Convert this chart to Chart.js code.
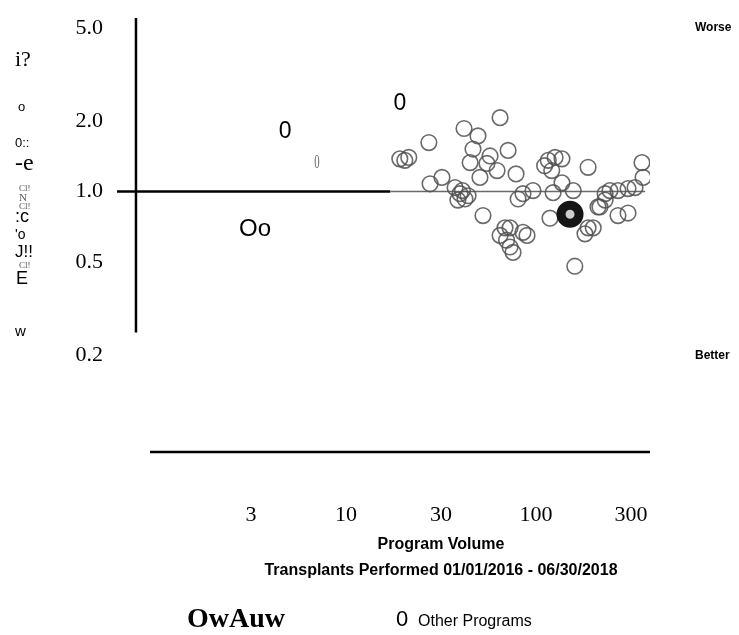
<!DOCTYPE html>
<html>
<head>
<meta charset="utf-8">
<script src="https://cdn.jsdelivr.net/npm/chart.js@4.4.0/dist/chart.umd.min.js"></script>
<style>
    html, body { margin: 0; padding: 0; background: #fff; }
    canvas { display: block; }
</style>
</head>
<body>
<canvas id="funnelChart" width="739" height="635"></canvas>
<script>
// Graduations
const xTickValues = [3.162, 10, 31.62, 100, 316.2];
const xTickLabels = ['3', '10', '30', '100', '300'];
const yTickValues = [5, 2, 1, 0.5, 0.2];
const yTickLabels = ['5.0', '2.0', '1.0', '0.5', '0.2'];
const sideTickValues = [5, 0.2];
const sideTickLabels = ['Worse', 'Better'];

// Autres programmes (volume, ratio)
const otherVolume = [64.7, 41.8, 49.5, 27.3, 19.2, 20.4, 21.4, 46.6, 57.3, 71.3,
    45.0, 55.2, 50.7, 62.4, 78.5, 27.7, 32.0, 37.5, 39.8, 42.3,
    38.8, 43.9, 41.0, 52.6, 85.4, 73.0, 64.7, 70.0, 85.4, 89.7,
    73.0, 75.7, 116, 126, 137, 111, 121, 137, 123, 96.4,
    157, 118.5, 188, 361, 366, 231, 270, 305, 332, 212,
    231, 270, 305, 188, 200, 181, 160, 80.5, 68.7, 245, 217];
const otherRatio = [2.07, 1.86, 1.73, 1.62, 1.38, 1.36, 1.40, 1.52, 1.42, 1.50,
    1.33, 1.32, 1.15, 1.23, 1.19, 1.08, 1.15, 1.04, 0.98, 0.93,
    0.92, 0.96, 1.01, 0.79, 0.98, 0.70, 0.65, 0.62, 0.67, 0.65,
    0.58, 0.55, 1.36, 1.40, 1.38, 1.29, 1.23, 1.09, 0.99, 1.01,
    1.01, 0.77, 1.27, 1.33, 1.15, 0.98, 1.01, 1.03, 1.04, 0.86,
    0.92, 0.79, 0.81, 0.70, 0.70, 0.66, 0.48, 0.93, 0.70, 1.01, 0.86];

// Ce programme
const ownVolume = [151];
const ownRatio = [0.80];

// Ligne de référence (ratio = 1)
const refVolume = [0.624, 17.1, 375];
const refRatio = [1, 1, 1];

// Glyphes isolés
const glyphText = ['0', '0', '0', 'Oo'];
const glyphVolume = [4.78, 19.2, 7.03, 3.32];
const glyphRatio = [1.80, 2.37, 1.32, 0.69];

// Textes
const yTitleLines = ['i?', 'o', '0::', '-e', 'Cl!', 'N', 'Cl!', ':c', "'o", 'J!!', 'Cl!', 'E', 'w'];
const xTitleLines = ['Program Volume', 'Transplants Performed 01/01/2016 - 06/30/2018'];
const legendOwn = 'OwAuw';
const legendOtherMark = '0';
const legendOther = 'Other Programs';

const SERIF = '"Liberation Serif", "Times New Roman", serif';
const SANS = '"Liberation Sans", Arial, sans-serif';

// Styles des lignes du titre vertical
const yTitleStyle = [
    { x: 15, y: 60, font: '22px ' + SERIF, color: '#000' },
    { x: 18, y: 107, font: '13px ' + SANS, color: '#000' },
    { x: 15, y: 143, font: '13px ' + SANS, color: '#000' },
    { x: 15, y: 164, font: '24px ' + SERIF, color: '#000' },
    { x: 19, y: 189, font: '9px ' + SERIF, color: '#555' },
    { x: 19, y: 198, font: '11px ' + SERIF, color: '#555' },
    { x: 19, y: 207, font: '9px ' + SERIF, color: '#555' },
    { x: 15, y: 217, font: '18px ' + SANS, color: '#000' },
    { x: 15, y: 235, font: '14px ' + SANS, color: '#000' },
    { x: 15, y: 252, font: '17px ' + SANS, color: '#000' },
    { x: 19, y: 266, font: '9px ' + SERIF, color: '#555' },
    { x: 16, y: 279, font: '18px ' + SANS, color: '#000' },
    { x: 15, y: 332, font: '15px ' + SANS, color: '#000' }
];
const glyphStyle = [
    { font: '23px ' + SANS, color: '#000' },
    { font: '23px ' + SANS, color: '#000' },
    { font: '18px ' + SERIF, color: '#666', scaleX: 0.6 },
    { font: '24px ' + SANS, color: '#000' }
];

// Décor : axe vertical, règle, textes
const decorPlugin = {
    id: 'decor',
    afterDatasetsDraw(chart) {
        const { ctx, chartArea } = chart;
        const x = chart.scales.x;
        const y = chart.scales.y;
        ctx.save();

        ctx.strokeStyle = '#000';
        ctx.lineWidth = 2.5;
        const spineX = x.getPixelForValue(0.785);
        ctx.beginPath();
        ctx.moveTo(spineX, chartArea.top);
        ctx.lineTo(spineX, y.getPixelForValue(0.25));
        ctx.stroke();

        ctx.beginPath();
        ctx.moveTo(x.getPixelForValue(0.93), chartArea.bottom);
        ctx.lineTo(chartArea.right, chartArea.bottom);
        ctx.stroke();

        // Glyphes
        ctx.textAlign = 'center';
        ctx.textBaseline = 'middle';
        glyphText.forEach((t, i) => {
            const st = glyphStyle[i];
            const px = x.getPixelForValue(glyphVolume[i]);
            const py = y.getPixelForValue(glyphRatio[i]);
            ctx.save();
            ctx.font = st.font;
            ctx.fillStyle = st.color;
            ctx.translate(px, py);
            ctx.scale(st.scaleX || 1, 1);
            ctx.fillText(t, 0, 0);
            ctx.restore();
        });

        // Titre vertical
        ctx.textAlign = 'left';
        yTitleLines.forEach((t, i) => {
            const st = yTitleStyle[i];
            ctx.font = st.font;
            ctx.fillStyle = st.color;
            ctx.fillText(t, st.x, st.y);
        });

        // Titre de l'axe x
        ctx.textAlign = 'center';
        ctx.fillStyle = '#000';
        ctx.font = 'bold 16px ' + SANS;
        const cx = x.getPixelForValue(xTickValues[2]);
        ctx.fillText(xTitleLines[0], cx, chartArea.bottom + 93);
        ctx.fillText(xTitleLines[1], cx, chartArea.bottom + 119);

        // Légende
        ctx.textAlign = 'left';
        ctx.textBaseline = 'alphabetic';
        ctx.font = 'bold 28px ' + SERIF;
        ctx.fillText(legendOwn, 187, 627);
        ctx.font = '22px ' + SANS;
        ctx.fillText(legendOtherMark, 396, 626);
        ctx.font = '16px ' + SANS;
        ctx.fillText(legendOther, 418, 626);

        ctx.restore();
    }
};

// Taille fixe des axes, sans marge automatique
const fixSize = (prop, size) => scale => {
    scale[prop] = size;
    scale.paddingTop = 0;
    scale.paddingBottom = 0;
    scale.paddingLeft = 0;
    scale.paddingRight = 0;
};

const logAxis = (values, labels, extra) => Object.assign({
    type: 'logarithmic',
    bounds: 'data',
    grid: { display: false, drawTicks: false },
    border: { display: false },
    afterBuildTicks: scale => { scale.ticks = values.map(v => ({ value: v })); },
    ticks: {
        autoSkip: false,
        maxRotation: 0,
        color: '#000',
        callback: (v, i) => labels[i]
    }
}, extra);

const xAxis = logAxis(xTickValues, xTickLabels, { position: 'bottom', min: 0.573, max: 398 });
xAxis.afterFit = fixSize('height', 183);
xAxis.ticks.padding = 50;
xAxis.ticks.font = { family: SERIF, size: 22 };

const yAxis = logAxis(yTickValues, yTickLabels, { position: 'left', min: 0.0772, max: 5.516 });
yAxis.afterFit = fixSize('width', 40);
yAxis.ticks.padding = 7;
yAxis.ticks.font = { family: SERIF, size: 22 };

const sideAxis = logAxis(sideTickValues, sideTickLabels, { position: 'right', min: 0.0772, max: 5.516 });
sideAxis.afterFit = fixSize('width', 89);
sideAxis.ticks.padding = 45;
sideAxis.ticks.font = { family: SANS, size: 12, weight: 'bold' };

new Chart(document.getElementById('funnelChart'), {
    type: 'scatter',
    data: {
        datasets: [
            {
                label: 'Référence',
                data: refVolume.slice(0, 2).map((v, i) => ({ x: v, y: refRatio[i] })),
                showLine: true,
                borderColor: '#000',
                borderWidth: 2.5,
                pointRadius: 0,
                order: 4
            },
            {
                label: 'Référence (zone)',
                data: refVolume.slice(1).map((v, i) => ({ x: v, y: refRatio[i + 1] })),
                showLine: true,
                borderColor: '#6a6a6a',
                borderWidth: 1.5,
                pointRadius: 0,
                order: 3
            },
            {
                label: legendOther,
                data: otherVolume.map((v, i) => ({ x: v, y: otherRatio[i] })),
                pointRadius: 7.8,
                borderWidth: 1.6,
                pointBorderWidth: 1.6,
                borderColor: 'rgba(80,80,80,0.85)',
                backgroundColor: 'rgba(0,0,0,0)',
                order: 2
            },
            {
                label: legendOwn,
                data: ownVolume.map((v, i) => ({ x: v, y: ownRatio[i] })),
                pointRadius: 9,
                borderWidth: 9,
                pointBorderWidth: 9,
                borderColor: '#151515',
                backgroundColor: 'rgba(200,200,200,0.9)',
                order: 1
            }
        ]
    },
    options: {
        responsive: false,
        animation: false,
        devicePixelRatio: 1,
        layout: { padding: { left: 70, top: 17, right: 0, bottom: 0 } },
        plugins: {
            legend: { display: false },
            tooltip: { enabled: false }
        },
        scales: { x: xAxis, y: yAxis, side: sideAxis }
    },
    plugins: [decorPlugin]
});
</script>
</body>
</html>
